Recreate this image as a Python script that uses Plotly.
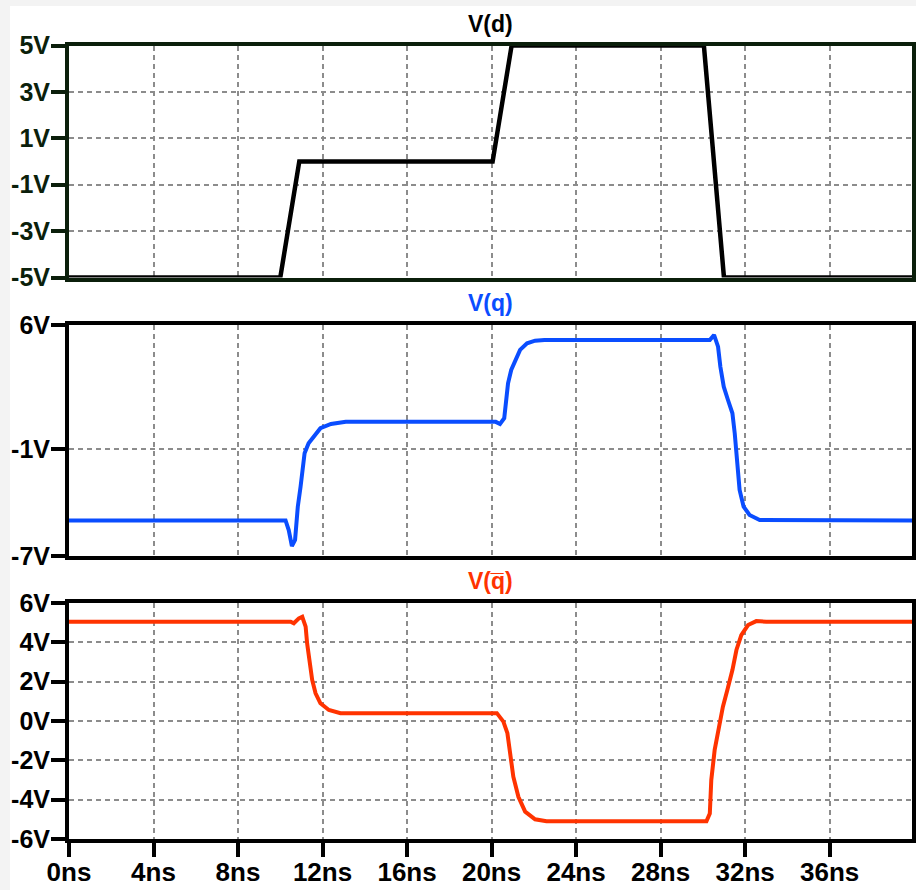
import plotly.graph_objects as go

W, H = 916, 890

# ---- V(d): input waveform (time in ns, volts) ----
t_d = [0, 10.0, 10.9, 20.05, 20.95, 30.05, 31.0, 40]
v_d = [-5, -5, 0, 0, 5, 5, -5, -5]

# ---- V(q): latch output ----
t_q = [0, 10.25, 10.4, 10.55, 10.7, 10.83, 10.96, 11.06, 11.15, 11.34, 11.58,
       11.9, 12.4, 13.1, 20.2, 20.4, 20.6, 20.69, 20.78, 20.93, 21.12, 21.35,
       21.68, 22.06, 22.5, 30.33, 30.53, 30.72, 30.83, 30.99, 31.19, 31.4,
       31.51, 31.62, 31.74, 31.93, 32.21, 32.69, 40]
v_q = [-5, -5, -5.54, -6.44, -6.1, -4.22, -3.1, -1.97, -1.22, -0.66, -0.29,
       0.19, 0.43, 0.55, 0.55, 0.43, 0.75, 1.78, 2.72, 3.47, 4.03, 4.6,
       4.97, 5.12, 5.15, 5.15, 5.44, 4.78, 3.65, 2.53, 1.78, 1.03,
       -0.1, -1.78, -3.28, -4.22, -4.69, -4.97, -5]

# ---- V(q-bar): complementary output ----
t_qb = [0, 10.49, 10.64, 10.88, 11.04, 11.2, 11.27, 11.4, 11.51, 11.67, 11.9,
        12.3, 12.85, 20.25, 20.56, 20.75, 20.88, 21.03, 21.27, 21.59, 22.06,
        22.6, 30.17, 30.33, 30.4, 30.56, 30.77, 30.95, 31.16, 31.4, 31.59,
        31.82, 32.14, 32.53, 33.0, 40]
v_qb = [5.05, 5.05, 4.97, 5.22, 5.3, 4.8, 3.95, 3.1, 2.09, 1.41, 0.9,
        0.56, 0.4, 0.4, -0.03, -0.62, -1.64, -2.83, -3.85, -4.61, -5.0,
        -5.1, -5.1, -4.7, -3.0, -1.47, -0.29, 0.73, 1.58, 2.59, 3.61,
        4.37, 4.88, 5.08, 5.05, 5.05]

# ---- axis ticks ----
time_ticks = [0, 4, 8, 12, 16, 20, 24, 28, 32, 36]
time_labels = ["0ns", "4ns", "8ns", "12ns", "16ns", "20ns", "24ns", "28ns", "32ns", "36ns"]
d_ticks = [-5, -3, -1, 1, 3, 5]
d_labels = ["-5V", "-3V", "-1V", "1V", "3V", "5V"]
q_ticks = [-7, -1, 6]
q_labels = ["-7V", "-1V", "6V"]
qb_ticks = [-6, -4, -2, 0, 2, 4, 6]
qb_labels = ["-6V", "-4V", "-2V", "0V", "2V", "4V", "6V"]

titles = ["V(d)", "V(q)", "V(q\u0305)"]

BLACK = "#000000"
DARK = "#0b1f0b"
BLUE = "#0a4dff"
RED = "#ff3300"
GRID = "#8c8c8c"
FONT = "Liberation Sans, Arial, sans-serif"

# pixel layout of the three panes (top, bottom edges)
x_left, x_right = 69, 912
panes = [(45.5, 277.5), (325, 556), (603, 839)]


def ydom(top, bottom):
    return [1 - bottom / H, 1 - top / H]


fig = go.Figure()
fig.add_trace(go.Scatter(x=t_d, y=v_d, xaxis="x", yaxis="y", mode="lines",
                         line=dict(color=BLACK, width=4.5), hoverinfo="skip"))
fig.add_trace(go.Scatter(x=t_q, y=v_q, xaxis="x2", yaxis="y2", mode="lines",
                         line=dict(color=BLUE, width=4), hoverinfo="skip"))
fig.add_trace(go.Scatter(x=t_qb, y=v_qb, xaxis="x3", yaxis="y3", mode="lines",
                         line=dict(color=RED, width=4), hoverinfo="skip"))


def tick_font(color, size):
    return dict(family=FONT, size=size, weight="bold", color=color)


def xaxis(anchor, frame, labels):
    ax = dict(anchor=anchor, domain=[x_left / W, x_right / W], range=[0, 39.9],
              tickvals=time_ticks, ticktext=time_labels, automargin=False,
              showline=True, mirror=True, linecolor=frame, linewidth=4,
              showgrid=True, gridcolor=GRID, gridwidth=1.5, griddash="5px,4px",
              zeroline=False, fixedrange=True)
    if labels:
        ax.update(ticks="outside", ticklen=14, tickwidth=4, tickcolor=frame,
                  showticklabels=True, tickfont=tick_font(frame, 26),
                  ticklabelstandoff=-7)
    else:
        ax.update(ticks="", showticklabels=False)
    return ax


def yaxis(anchor, pane, rng, vals, text, frame):
    return dict(anchor=anchor, domain=ydom(*pane), range=rng, automargin=False,
                tickvals=vals, ticktext=text, ticks="outside", ticklen=14,
                tickwidth=4, tickcolor=frame, tickfont=tick_font(frame, 25),
                ticklabelstandoff=-4,
                showline=True, mirror=True, linecolor=frame, linewidth=4,
                showgrid=True, gridcolor=GRID, gridwidth=1.5, griddash="5px,4px",
                zeroline=False, fixedrange=True)


fig.update_layout(
    width=W, height=H,
    margin=dict(l=0, r=0, t=0, b=0, pad=0),
    paper_bgcolor="#f3f3f3",
    plot_bgcolor="#ffffff",
    showlegend=False,
    xaxis=xaxis("y", DARK, False),
    xaxis2=xaxis("y2", BLACK, False),
    xaxis3=xaxis("y3", BLACK, True),
    yaxis=yaxis("x", panes[0], [-5, 5], d_ticks, d_labels, DARK),
    yaxis2=yaxis("x2", panes[1], [-7, 6], q_ticks, q_labels, BLACK),
    yaxis3=yaxis("x3", panes[2], [-6, 6], qb_ticks, qb_labels, BLACK),
    shapes=[dict(type="rect", xref="paper", yref="paper", x0=10 / W, x1=1,
                 y0=0, y1=1 - 6 / H, fillcolor="#ffffff", line=dict(width=0),
                 layer="below")],
)

title_y = [24, 303, 581]
title_colors = [BLACK, BLUE, RED]
for txt, yy, col in zip(titles, title_y, title_colors):
    fig.add_annotation(text=txt, xref="paper", yref="paper",
                       x=(x_left + x_right) / 2 / W, y=1 - yy / H,
                       xanchor="center", yanchor="middle", showarrow=False,
                       font=dict(family=FONT, size=23, weight="bold", color=col))

fig.write_html("out.html")
